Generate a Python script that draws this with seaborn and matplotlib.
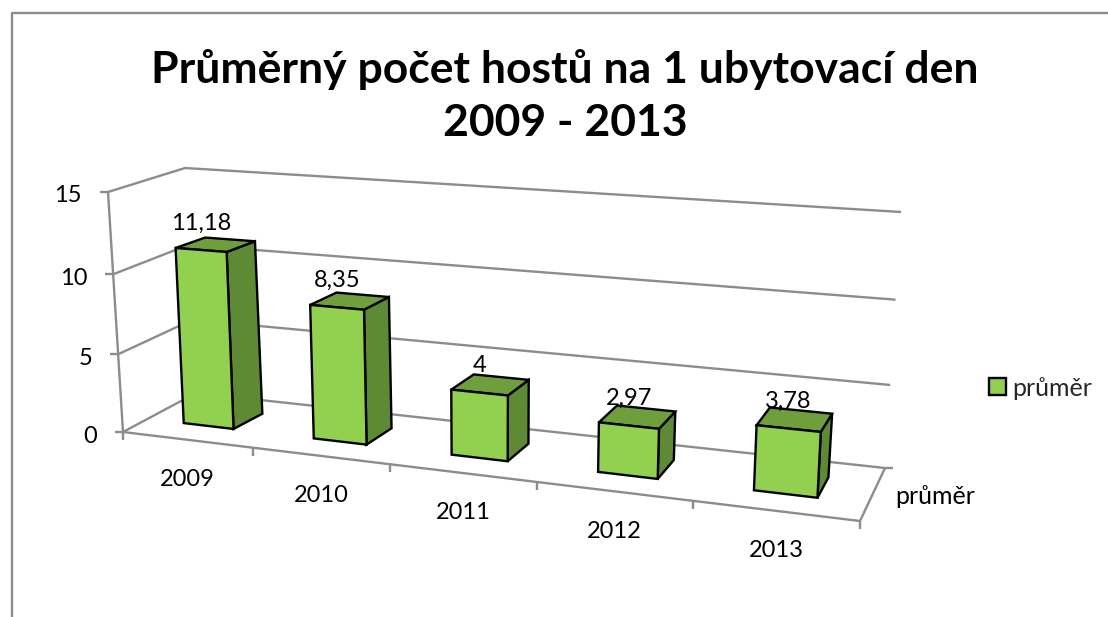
import numpy as np
import pandas as pd
import matplotlib
matplotlib.use('Agg')
import matplotlib.pyplot as plt
from matplotlib.transforms import Affine2D, Transform
import seaborn as sns

# chart values
years = ['2009', '2010', '2011', '2012', '2013']
prumer = [11.18, 8.35, 4, 2.97, 3.78]
series_name = 'průměr'
value_ticks = [0, 5, 10, 15]
title = 'Průměrný počet hostů na 1 ubytovací den\n2009 - 2013'

GREEN = '#92D050'
SIDE = '#5E8A35'
TOP = '#6F9F3C'
GREY = '#8C8C8C'
W, H = 1108, 617


def homography(src, dst):
    # 3x3 matrix that sends four (category, value) points to four pixel points
    rows = []
    for (x, y), (u, v) in zip(src, dst):
        rows.append([x, y, 1, 0, 0, 0, -u*x, -u*y, -u])
        rows.append([0, 0, 0, x, y, 1, -v*x, -v*y, -v])
    return np.linalg.svd(np.array(rows, float))[2][-1].reshape(3, 3)


def project(m, x, y):
    p = m @ np.array([x, y, np.ones_like(x)], float)
    return p[0]/p[2], p[1]/p[2]


class PlaneTransform(Transform):
    input_dims = output_dims = 2
    is_separable = False
    has_inverse = False

    def __init__(self, m):
        super().__init__()
        self.m = m

    def transform_non_affine(self, values):
        values = np.asarray(values, float)
        return np.column_stack(project(self.m, values[:, 0], values[:, 1]))


# the view of the fake 3D box, one plane each for the bar fronts, bar backs,
# front axis line and back wall
bar_corners = [(0, 0), (4, 0), (0, 10), (4, 10)]
front = homography(bar_corners, [(208.5, 426), (785.5, 494), (201.8, 269), (793.5, 318)])
back = homography(bar_corners, [(238, 411), (797.5, 474), (230.8, 258), (806.5, 303)])
axis_plane = homography([(-.5, 0), (4.5, 0), (-.5, 15), (4.5, 15)],
                        [(123, 432), (860, 521), (108, 192), (880, 242)])
wall = homography([(-.5, 0), (4.5, 0), (-.5, 15), (4.5, 15)],
                  [(196, 393), (885, 468), (185, 168), (901, 212)])

sns.set_theme(style='white')
plt.rcParams['font.family'] = ['Lato', 'DejaVu Sans']

fig = plt.figure(figsize=(W/100, H/100), dpi=100)
ax = fig.add_axes([0, 0, 1, 1])
df = pd.DataFrame({'rok': years, 'prumer': prumer, 'serie': series_name})
sns.barplot(data=df, x='rok', y='prumer', hue='serie', palette=[GREEN], width=0.39,
            saturation=1, edgecolor='black', linewidth=1.7, ax=ax)

pixels = Affine2D().scale(1, -1).translate(0, H)
front_tf = PlaneTransform(front) + pixels


def line(xs, ys, **kw):
    ax.plot(xs, ys, transform=pixels, color=GREY, lw=1.7, zorder=1,
            solid_capstyle='butt', clip_on=False, **kw)


# outer frame of the chart
line([W, 11.5, 11.5], [12.5, 12.5, H])

# walls and floor
for v in value_ticks:
    v_ = np.array([v, v], float)
    ax_x, ax_y = project(axis_plane, np.array([-.5]), v_[:1])
    wx, wy = project(wall, np.array([-.5, 4.5]), v_)
    line([ax_x[0], wx[0], wx[1]], [ax_y[0], wy[0], wy[1]])
    line([ax_x[0] - 8, ax_x[0]], [ax_y[0], ax_y[0]])
    ax.text(ax_x[0] - 26, ax_y[0] + 4, str(v), transform=pixels, ha='right', va='center',
            fontsize=17, color='black')

# vertical axis
ends = np.array([-.5, -.5])
ax_x, ax_y = project(axis_plane, ends, np.array([0, 15.]))
line(ax_x, ax_y)

# category axis with its ticks and labels
ex, ey = project(axis_plane, np.array([-.5, 4.5]), np.zeros(2))
line(ex, ey)
for i in range(len(years) + 1):
    tx, ty = project(axis_plane, np.array([i - .5]), np.zeros(1))
    line([tx[0], tx[0]], [ty[0], ty[0] + 8])
for i, year in enumerate(years):
    tx, ty = project(axis_plane, np.array([float(i)]), np.zeros(1))
    ax.text(tx[0] + 1, ty[0] + 40, year, transform=pixels, ha='center', va='center',
            fontsize=17, color='black')

# right floor edge and depth axis label
wx, wy = project(wall, np.array([4.5]), np.zeros(1))
line([ex[1], wx[0]], [ey[1], wy[0]])
line([wx[0], wx[0] + 8], [wy[0], wy[0]])
ax.text(935, 496, series_name, transform=pixels, ha='center', va='center',
        fontsize=18, color='black')

# bars: seaborn draws the front, side and top faces follow from the same rectangles
for bar, val in zip(ax.patches, prumer):
    x0, x1 = bar.get_x(), bar.get_x() + bar.get_width()
    h = bar.get_height()
    bar.set_transform(front_tf)
    bar.set_zorder(4)
    bar.set_clip_on(False)

    fx, fy = project(front, np.array([x1, x1, x0]), np.array([0, h, h]))
    bx, by = project(back, np.array([x1, x1, x0]), np.array([0, h, h]))
    ax.fill([fx[0], fx[1], bx[1], bx[0]], [fy[0], fy[1], by[1], by[0]], transform=pixels,
            facecolor=SIDE, edgecolor='black', lw=1.7, zorder=3, clip_on=False)
    ax.fill([fx[2], fx[1], bx[1], bx[2]], [fy[2], fy[1], by[1], by[2]], transform=pixels,
            facecolor=TOP, edgecolor='black', lw=1.7, zorder=3, clip_on=False)

    lx, ly = project(front, np.array([(x0 + x1)/2]), np.array([h]))
    ax.text(lx[0], ly[0] - 27, '{:g}'.format(val).replace('.', ','), transform=pixels,
            ha='center', va='center', fontsize=17, color='black', zorder=5)

ax.text(565, 96, title, transform=pixels, ha='center', va='center', fontsize=32,
        fontweight='bold', color='black', linespacing=1.42)

ax.set_xlim(-.5, 4.5)
ax.set_ylim(0, 15)
sns.move_legend(ax, 'center left', bbox_to_anchor=(989/W, 1 - 388/H), frameon=False,
                title=None, fontsize=18, handlelength=0.66, handleheight=0.66,
                handletextpad=0.25, borderpad=0, borderaxespad=0)
ax.axis('off')

fig.savefig('out.png', dpi=100, facecolor='white')
